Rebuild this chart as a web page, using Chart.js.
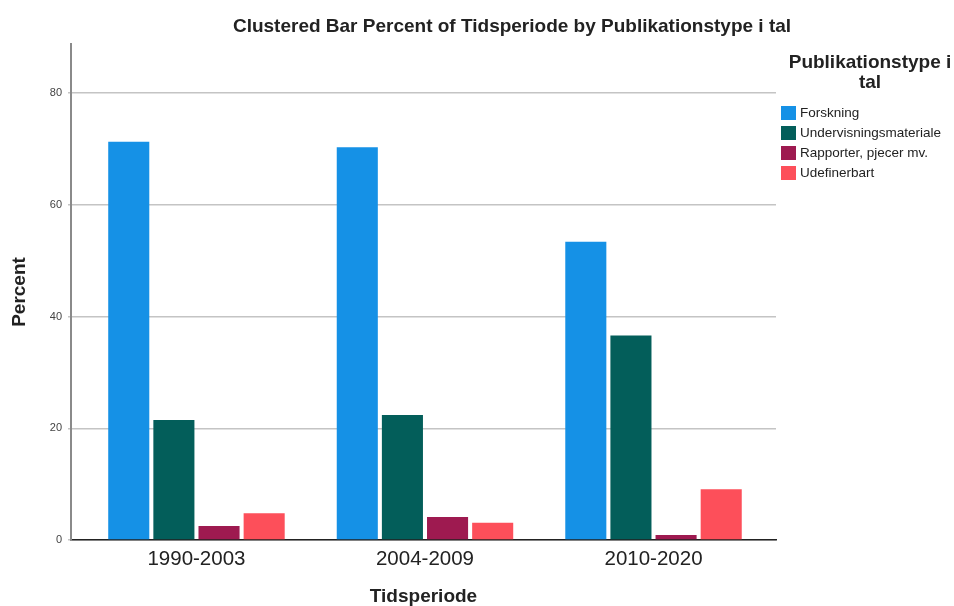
<!DOCTYPE html>
<html>
<head>
<meta charset="utf-8">
<script src="https://cdn.jsdelivr.net/npm/chart.js@4"></script>
<style>
  html, body { margin: 0; padding: 0; background: #fff; }
  #wrap { width: 954px; height: 606px; }
</style>
</head>
<body>
<div id="wrap"><canvas id="chart"></canvas></div>
<script>
// --- DATA ---
const periods = ['1990-2003', '2004-2009', '2010-2020'];
const forskning = [71.3, 70.3, 53.4];
const undervisning = [21.5, 22.4, 36.6];
const rapporter = [2.5, 4.1, 0.9];
const udefinerbart = [4.8, 3.1, 9.1];
const seriesNames = ['Forskning', 'Undervisningsmateriale', 'Rapporter, pjecer mv.', 'Udefinerbart'];
const seriesColors = ['#1591e6', '#035e5a', '#9e1a50', '#fd4f5a'];
const yTicks = [0, 20, 40, 60, 80];

const FONT = '"Liberation Sans", Arial, sans-serif';

// clusters sit a bit inside the plot in the original, not on an even split
const clusterSpread = {
    id: 'clusterSpread',
    beforeDatasetsUpdate(chart) {
        const x = chart.scales.x;
        x._startValue = -0.549;
        x._valueRange = 3.085;
    }
};

// title + legend drawn by hand (legend title wraps to two lines)
const sideBits = {
    id: 'sideBits',
    afterDraw(chart) {
        const c = chart.ctx;
        c.save();
        c.fillStyle = '#222';
        c.textAlign = 'center';
        c.textBaseline = 'middle';
        c.font = 'bold 19px ' + FONT;
        c.fillText('Clustered Bar Percent of Tidsperiode by Publikationstype i tal', 512, 27);

        c.fillText('Publikationstype i', 870, 63);
        c.fillText('tal', 870, 83);

        c.textAlign = 'left';
        c.font = '13.5px ' + FONT;
        chart.data.datasets.forEach((ds, i) => {
            const y = 113 + i * 20;
            c.fillStyle = ds.backgroundColor;
            c.fillRect(781, y - 7, 15, 14);
            c.fillStyle = '#222';
            c.fillText(ds.label, 800, y);
        });
        c.restore();
    }
};

const seriesData = [forskning, undervisning, rapporter, udefinerbart];

new Chart(document.getElementById('chart'), {
    type: 'bar',
    data: {
        labels: periods,
        datasets: seriesNames.map((name, i) => ({
            label: name,
            data: seriesData[i],
            backgroundColor: seriesColors[i],
            borderWidth: 0,
            barPercentage: 0.91,
            categoryPercentage: 0.79
        }))
    },
    options: {
        responsive: true,
        maintainAspectRatio: false,
        animation: false,
        layout: { padding: { top: 44, right: 178, left: 0, bottom: 0 } },
        plugins: {
            legend: { display: false },
            title: { display: false },
            tooltip: { enabled: false }
        },
        scales: {
            x: {
                grid: { display: false, drawTicks: false },
                border: { color: '#222', width: 1.5 },
                ticks: { color: '#222', font: { family: FONT, size: 20.5 }, padding: 7 },
                title: { display: true, text: 'Tidsperiode', color: '#222', font: { family: FONT, size: 19, weight: 'bold' }, padding: { top: 0, bottom: -2 } },
                afterFit(scale) { scale.height = 66; }
            },
            y: {
                min: 0,
                max: 88.8,
                grid: { color: '#c4c4c4', lineWidth: 1.5, tickLength: 3 },
                border: { color: '#8a8a8a', width: 2 },
                ticks: {
                    stepSize: 20,
                    includeBounds: false,
                    color: '#444',
                    font: { family: FONT, size: 11 },
                    padding: 6,
                    callback: (v) => yTicks.includes(v) ? v : ''
                },
                title: { display: true, text: 'Percent', color: '#222', font: { family: FONT, size: 19, weight: 'bold' }, padding: { top: 8, bottom: 0 } },
                afterFit(scale) { scale.width = 71; }
            }
        }
    },
    plugins: [clusterSpread, sideBits]
});
</script>
</body>
</html>
